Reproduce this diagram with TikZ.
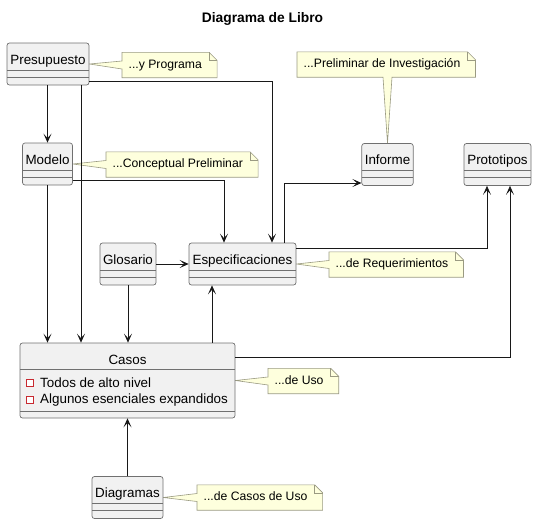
\documentclass[tikz,border=0pt]{standalone}
\usepackage{fontspec}
\setmainfont{Liberation Sans}
\usetikzlibrary{arrows.meta,backgrounds}
\definecolor{boxfill}{HTML}{F1F1F1}
\definecolor{boxline}{HTML}{707070}
\definecolor{notefill}{HTML}{FEFFDD}
\definecolor{noteedge}{HTML}{9A9A82}
\definecolor{edgecol}{HTML}{181818}
\definecolor{privred}{HTML}{C82930}
\newcommand{\classfont}{\fontsize{13.4}{15}\selectfont}
\newcommand{\notefont}{\fontsize{12.2}{14}\selectfont}
\tikzset{
  seps/.style 2 args={path picture={
    \draw[boxline,line width=0.7pt] ([yshift=-#1]path picture bounding box.north west) -- ([yshift=-#1]path picture bounding box.north east);
    \draw[boxline,line width=0.7pt] ([yshift=-#2]path picture bounding box.north west) -- ([yshift=-#2]path picture bounding box.north east);}},
  classbox/.style={draw=boxline, fill=boxfill, rounded corners=2.5pt, line width=0.7pt,
    font=\classfont, inner xsep=3pt, inner ysep=7pt, text height=14pt, text depth=14pt,
    seps={27pt}{34pt}},
  attr/.style={anchor=west, inner sep=0pt, font=\classfont},
  privicon/.style={draw=privred, fill=white, line width=0.8pt, minimum size=6.5pt, inner sep=0pt},
  note/.style={anchor=west, font=\notefont, inner xsep=6.5pt, inner ysep=6.5pt,
    text height=9pt, text depth=3pt},
  noteshape/.style={draw=noteedge, fill=notefill, line width=0.6pt, line join=miter},
  notefold/.style={draw=noteedge, line width=0.6pt},
  dep/.style={draw=edgecol, line width=0.8pt, -{Stealth[length=9pt,width=8pt,inset=4.5pt]}},
}
% note with its pointer on the left side: #1 note, #2 tip
\newcommand{\leftnote}[2]{%
  \draw[noteshape] (#1.north west) -- ([xshift=0.5pt]#1.north east)
    -- ([xshift=8.5pt,yshift=-8pt]#1.north east) -- ([xshift=8.5pt]#1.south east)
    -- (#1.south west) -- ([yshift=-4pt]#1.west) -- (#2) -- ([yshift=4pt]#1.west) -- cycle;
  \draw[notefold] ([xshift=0.5pt]#1.north east) -- ([xshift=0.5pt,yshift=-8pt]#1.north east)
    -- ([xshift=8.5pt,yshift=-8pt]#1.north east);
}
\begin{document}
\begin{tikzpicture}[x=1pt,y=-1pt]
\useasboundingbox (0,0) rectangle (538,525);
\node[font=\bfseries\fontsize{13.8}{16}\selectfont] (title) at (262.5,19) {Diagrama de Libro};

% classes
\node[classbox, minimum width=82pt] (pres) at (48,64) {Presupuesto};
\node[classbox, minimum width=49pt] (mod) at (47.5,164) {Modelo};
\node[classbox, minimum width=51pt] (inf) at (387.5,164.5) {Informe};
\node[classbox, minimum width=67pt] (proto) at (497.5,164.5) {Prototipos};
\node[classbox, minimum width=56pt] (glos) at (128,264) {Glosario};
\node[classbox, minimum width=107pt] (espec) at (242.5,264) {Especificaciones};
\node[classbox, minimum width=215pt, text depth=47pt, seps={26pt}{68pt}] (casos) at (127.5,380.5) {Casos};
\node[classbox, minimum width=71pt] (diag) at (127.5,497.5) {Diagramas};

% attributes of Casos
\node[attr] (todos) at (40,383) {Todos de alto nivel};
\node[attr] (algunos) at (40,400) {Algunos esenciales expandidos};
\node[privicon] (iconA) at (30,383) {};
\node[privicon] (iconB) at (30,400) {};

% notes
\node[note] (nPres) at (122,65) {...y Programa};
\node[note] (nMod) at (106,164.5) {...Conceptual Preliminar};
\node[note] (nInf) at (297,64.5) {...Preliminar de Investigación};
\node[note] (nEspec) at (329,264.5) {...de Requerimientos};
\node[note] (nCasos) at (268,381) {...de Uso};
\node[note] (nDiag) at (197,497.5) {...de Casos de Uso};

\begin{pgfonlayer}{background}
\leftnote{nPres}{pres.east}
\leftnote{nMod}{mod.east}
\leftnote{nEspec}{espec.east}
\leftnote{nCasos}{casos.east}
\leftnote{nDiag}{diag.east}
\draw[noteshape] (nInf.north west) -- ([xshift=0.5pt]nInf.north east)
  -- ([xshift=8.5pt,yshift=-8pt]nInf.north east) -- ([xshift=8.5pt]nInf.south east)
  -- ([xshift=4.5pt]nInf.south -| inf.north) -- (inf.north) -- ([xshift=-4.5pt]nInf.south -| inf.north)
  -- (nInf.south west) -- cycle;
\draw[notefold] ([xshift=0.5pt]nInf.north east) -- ([xshift=0.5pt,yshift=-8pt]nInf.north east)
  -- ([xshift=8.5pt,yshift=-8pt]nInf.north east);
\end{pgfonlayer}

% dependencies
\draw[dep] (pres.south -| mod.north) -- (mod.north);
\draw[dep] ([xshift=33pt]pres.south) -- ([xshift=33pt]pres.south |- casos.north);
\draw[dep] ([yshift=-17pt]pres.east) -| ([xshift=29.5pt]espec.north);
\draw[dep] ([yshift=-16pt]mod.east) -| ([xshift=-18.5pt]espec.north);
\draw[dep] (mod.south) -- (mod.south |- casos.north);
\draw[dep] (glos.east) -- (espec.west);
\draw[dep] (glos.south) -- (glos.south |- casos.north);
\draw[dep] ([xshift=-30.5pt]espec.south |- casos.north) -- ([xshift=-30.5pt]espec.south);
\draw[dep] ([xshift=41.5pt]espec.north) |- ([yshift=-18.5pt]inf.west);
\draw[dep] ([yshift=16pt]espec.east) -| ([xshift=-10.5pt]proto.south);
\draw[dep] ([yshift=23.5pt]casos.east) -| ([xshift=12.5pt]proto.south);
\draw[dep] (diag.north) -- (casos.south);
\end{tikzpicture}
\end{document}
